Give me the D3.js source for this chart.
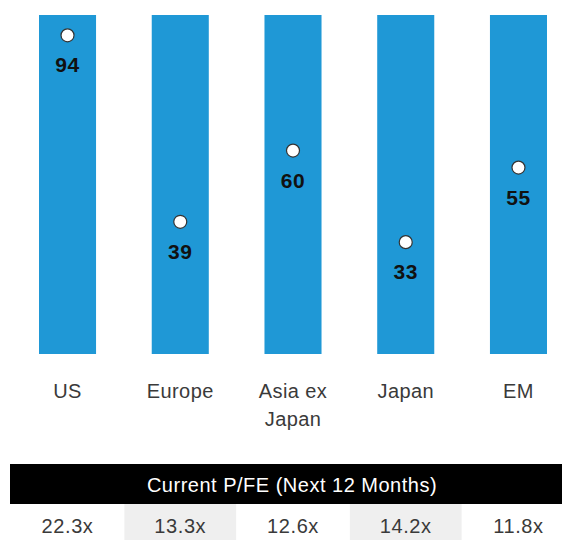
<!DOCTYPE html>
<html>
<head>
<meta charset="utf-8">
<script src="https://cdn.jsdelivr.net/npm/d3@7"></script>
<style>
  body { margin: 0; background: #fff; }
  text { font-family: "Liberation Sans", Arial, sans-serif; }
</style>
</head>
<body>
<div id="container"></div>
<script>
const w = 563,
    h = 540;

// data
const regions = [["US"], ["Europe"], ["Asia ex", "Japan"], ["Japan"], ["EM"]];
const keys = ["US", "Europe", "Asia ex Japan", "Japan", "EM"];
const percentiles = [94, 39, 60, 33, 55];
const peValues = ["22.3x", "13.3x", "12.6x", "14.2x", "11.8x"];
const tableTitle = "Current P/FE (Next 12 Months)";

var svg = d3.select("#container")
    .append("svg")
    .attr("width", w)
    .attr("height", h);

var x = d3.scaleBand()
    .domain(keys)
    .range([39, 547])
    .paddingInner(0.494)
    .paddingOuter(0);

var y = d3.scaleLinear()
    .domain([0, 100])
    .range([354, 15]);

// full-height bars (0-100 range)
svg.selectAll("rect.bar")
    .data(keys)
    .enter().append("rect")
    .attr("class", "bar")
    .attr("x", d => x(d))
    .attr("y", y(100))
    .attr("width", x.bandwidth())
    .attr("height", y(0) - y(100))
    .style("fill", "#1f98d6");

// markers
svg.selectAll("circle.dot")
    .data(percentiles)
    .enter().append("circle")
    .attr("class", "dot")
    .attr("cx", (d, i) => x(keys[i]) + x.bandwidth() / 2)
    .attr("cy", d => y(d))
    .attr("r", 6.5)
    .style("fill", "#fff")
    .style("stroke", "#333")
    .style("stroke-width", 1.2);

svg.selectAll("text.val")
    .data(percentiles)
    .enter().append("text")
    .attr("class", "val")
    .attr("x", (d, i) => x(keys[i]) + x.bandwidth() / 2)
    .attr("y", d => y(d) + 37)
    .attr("text-anchor", "middle")
    .style("font-size", "21px")
    .style("font-weight", "bold")
    .style("letter-spacing", "0.5px")
    .style("fill", "#111")
    .text(d => d);

// category labels
var labels = svg.selectAll("text.cat")
    .data(regions)
    .enter().append("text")
    .attr("class", "cat")
    .attr("text-anchor", "middle")
    .style("font-size", "20px")
    .style("letter-spacing", "0.4px")
    .style("fill", "#3a3a3a");
labels.each(function (lines, i) {
    var t = d3.select(this);
    lines.forEach(function (l, j) {
        t.append("tspan")
            .attr("x", x(keys[i]) + x.bandwidth() / 2)
            .attr("y", 398 + j * 28)
            .text(l);
    });
});

// table header
svg.append("rect")
    .attr("x", 10)
    .attr("y", 464)
    .attr("width", 552)
    .attr("height", 40)
    .style("fill", "#000");
svg.append("text")
    .attr("x", 292)
    .attr("y", 492)
    .attr("text-anchor", "middle")
    .style("font-size", "20px")
    .style("letter-spacing", "0.5px")
    .style("fill", "#fff")
    .text(tableTitle);

// table row
var step = x.step();
svg.selectAll("rect.cell")
    .data(keys)
    .enter().append("rect")
    .attr("class", "cell")
    .attr("x", d => x(d) + x.bandwidth() / 2 - step / 2 + 0.5)
    .attr("y", 504)
    .attr("width", step - 1)
    .attr("height", 36)
    .style("fill", (d, i) => i % 2 ? "#efefef" : "none");

svg.selectAll("text.pe")
    .data(peValues)
    .enter().append("text")
    .attr("class", "pe")
    .attr("x", (d, i) => x(keys[i]) + x.bandwidth() / 2)
    .attr("y", 533)
    .attr("text-anchor", "middle")
    .style("font-size", "20px")
    .style("letter-spacing", "0.6px")
    .style("fill", "#3a3a3a")
    .text(d => d);
</script>
</body>
</html>
